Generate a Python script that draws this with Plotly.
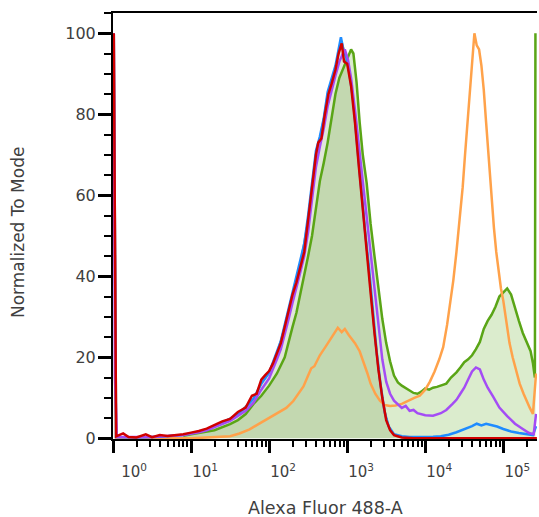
import plotly.graph_objects as go

# ---- data (x stored as log10 of Alexa Fluor 488-A intensity, y = % of mode) ----
red_logx = [0.01, 0.04, 0.13, 0.2, 0.3, 0.42, 0.5, 0.6, 0.7, 0.8, 0.9, 1.0, 1.1, 1.2, 1.3, 1.4, 1.5, 1.6, 1.7,
            1.78, 1.84, 1.9, 1.95, 2.0, 2.05, 2.1, 2.15, 2.2, 2.25, 2.3, 2.35, 2.4, 2.45, 2.5, 2.55, 2.6, 2.63,
            2.67, 2.71, 2.76, 2.8, 2.85, 2.89, 2.93, 2.96, 3.0, 3.05, 3.1, 3.15, 3.2, 3.25, 3.3, 3.35, 3.4, 3.45,
            3.5, 3.55, 3.6, 3.7, 3.85, 5.43]
red_vals = [100, 0.5, 1.2, 0.3, 0.2, 1.0, 0.3, 0.8, 0.6, 0.8, 1.0, 1.4, 1.8, 2.4, 3.3, 4.2, 4.8, 6.5, 7.6,
            10.5, 11.0, 14.5, 15.6, 16.6, 18.5, 21, 23.5, 27.5, 31.5, 35.5, 38.5, 42.5, 46, 54, 62, 70, 73,
            74, 79.5, 85, 87.5, 91, 95, 97.5, 93, 92.5, 87, 78, 67, 56, 47, 36, 26, 17, 10,
            4.5, 2, 0.8, 0.2, 0, 0]

blue_logx = [0.01, 0.04, 0.3, 0.6, 0.9, 1.0, 1.1, 1.2, 1.3, 1.4, 1.5, 1.6, 1.7, 1.8, 1.9, 2.0, 2.05, 2.1, 2.15,
             2.2, 2.25, 2.3, 2.35, 2.4, 2.45, 2.5, 2.55, 2.6, 2.65, 2.7, 2.75, 2.8, 2.85, 2.89, 2.92, 2.95, 2.99,
             3.03, 3.08, 3.13, 3.18, 3.23, 3.28, 3.33, 3.38, 3.43, 3.48, 3.53, 3.6, 3.7, 3.8, 3.9, 4.0, 4.1, 4.2,
             4.3, 4.4, 4.5, 4.6, 4.66, 4.72, 4.78, 4.85, 4.92, 5.0, 5.1, 5.2, 5.3, 5.38, 5.42]
blue_vals = [100, 0.3, 0.2, 0.4, 0.8, 1.2, 1.6, 2.2, 3.0, 3.9, 4.8, 6.0, 7.6, 9.8, 13.5, 16.2, 18.8, 21.5, 24,
             28, 32, 36, 39.5, 43.5, 48, 55, 63, 71, 74.5, 79, 85.5, 88.5, 92, 96, 99, 96, 94,
             90, 83, 72, 61, 51, 42, 31, 21, 13, 6.5, 3, 1, 0.5, 0.3, 0.3, 0.3, 0.4, 0.5,
             0.9, 1.5, 2.2, 3.0, 3.6, 3.2, 3.6, 3.3, 2.9, 2.3, 1.7, 1.3, 1.0, 0.8, 3]

purple_logx = [0.01, 0.025, 0.05, 0.5, 0.9, 1.0, 1.1, 1.2, 1.3, 1.4, 1.5, 1.6, 1.7, 1.8, 1.9, 2.0, 2.05, 2.1,
               2.15, 2.2, 2.25, 2.3, 2.35, 2.4, 2.45, 2.5, 2.55, 2.6, 2.65, 2.7, 2.75, 2.8, 2.85, 2.9, 2.94,
               2.97, 3.01, 3.05, 3.1, 3.15, 3.2, 3.25, 3.3, 3.35, 3.4, 3.45, 3.5, 3.55, 3.6, 3.65, 3.7, 3.75,
               3.8, 3.85, 3.9, 4.0, 4.1, 4.2, 4.27, 4.35, 4.4, 4.45, 4.5, 4.55, 4.6, 4.65, 4.7, 4.75, 4.8,
               4.87, 4.95, 5.05, 5.15, 5.25, 5.33, 5.39, 5.42]
purple_vals = [100, 15, 0.3, 0.3, 0.8, 1.1, 1.5, 2.0, 2.7, 3.5, 4.3, 5.5, 6.8, 8.8, 12, 14.8, 17, 19.5,
               22, 25.5, 29.5, 33.5, 37, 41, 45, 51, 59, 67, 72, 76.5, 82, 86, 89.5, 93, 95,
               96, 93.5, 89, 81, 72, 63, 54, 46, 36, 27, 19.5, 14, 11, 9.3, 8.5, 7.5, 8,
               6.8, 7, 6.2, 5.7, 5.6, 6.2, 7, 8.5, 9.5, 11, 12.5, 14.5, 16.5, 17.5, 17, 14.5, 12.5,
               10.3, 7.6, 5.5, 3.6, 2.3, 1.3, 1.0, 6]

green_logx = [0.9, 1.0, 1.3, 1.5, 1.6, 1.7, 1.8, 1.9, 2.0, 2.1, 2.2, 2.25, 2.3, 2.35, 2.4, 2.45, 2.5, 2.55,
              2.6, 2.65, 2.7, 2.75, 2.8, 2.85, 2.9, 2.95, 3.0, 3.05, 3.08, 3.12, 3.16, 3.2, 3.25, 3.3, 3.35,
              3.4, 3.45, 3.5, 3.55, 3.6, 3.65, 3.7, 3.75, 3.8, 3.85, 3.9, 3.95, 4.0, 4.05, 4.1, 4.15, 4.2,
              4.27, 4.33, 4.4, 4.45, 4.5, 4.55, 4.6, 4.65, 4.7, 4.75, 4.8, 4.85, 4.9, 4.95, 5.0, 5.05, 5.1,
              5.15, 5.2, 5.25, 5.3, 5.35, 5.38, 5.405, 5.412]
green_vals = [0.6, 1.0, 2.0, 3.5, 4.5, 6.0, 8.5, 10.5, 13, 16, 20, 24, 27.5, 31, 35.5, 40, 45, 50,
              57, 63.5, 68, 73, 79, 85, 89, 91.5, 93.5, 96, 95, 88, 78, 70, 63, 53, 45,
              37, 29.5, 23.5, 19, 15.5, 13.8, 13, 12.3, 11.8, 11.2, 11, 11.5, 12.3, 12, 12.5, 12.7, 13,
              13.5, 15, 16.3, 17.5, 18.8, 19.5, 20.5, 22, 23.8, 27, 29, 30.5, 32.5, 35, 36, 37, 35.5,
              32, 29, 26, 23.5, 21.5, 18.5, 15, 100]

orange_logx = [0.01, 0.04, 1.0, 1.3, 1.5, 1.62, 1.75, 1.88, 2.0, 2.14, 2.22, 2.31, 2.38, 2.44, 2.5, 2.54,
               2.58, 2.65, 2.72, 2.78, 2.84, 2.88, 2.93, 2.97, 3.02, 3.1, 3.16, 3.21, 3.26, 3.3, 3.36, 3.42,
               3.48, 3.55, 3.62, 3.7, 3.78, 3.86, 3.93, 4.0, 4.06, 4.12, 4.18, 4.23, 4.28, 4.32, 4.36, 4.4,
               4.44, 4.48, 4.51, 4.55, 4.58, 4.61, 4.63, 4.66, 4.69, 4.72, 4.75, 4.78, 4.81, 4.85, 4.88,
               4.91, 4.94, 4.97, 5.0, 5.04, 5.08, 5.12, 5.16, 5.21, 5.26, 5.3, 5.34, 5.38, 5.42]
orange_vals = [100, 0, 0, 0.3, 0.5, 1.2, 2.2, 3.7, 5, 6.5, 7.5, 9.2, 11, 12.8, 15.5, 17.3,
               17.8, 20.5, 22.5, 24.3, 26, 27.3, 26.2, 27, 25.5, 23.5, 21.5, 19, 16, 13.5, 11, 9.3,
               8.2, 8, 8.1, 8.5, 9.3, 10, 10.5, 12, 14, 16.5, 19.5, 22.5, 28, 33, 39, 46,
               54, 62, 70, 80, 88, 95, 100, 97, 96, 92, 86, 78, 70, 60, 52,
               46, 41, 37, 34, 28.5, 23.5, 20, 17, 13.5, 11, 9, 7.5, 6, 16]

grey_logx = [0.01, 0.04, 0.5, 0.9, 1.0, 1.2, 1.4, 1.6, 1.8, 1.9, 2.0, 2.1, 2.2, 2.3, 2.4, 2.5, 2.6, 2.65,
             2.7, 2.75, 2.8, 2.85, 2.9, 2.93, 2.97, 3.0, 3.05, 3.1, 3.15, 3.2, 3.25, 3.3, 3.35, 3.4, 3.45,
             3.5, 3.55, 3.62, 3.75, 5.43]
grey_vals = [100, 0.3, 0.3, 0.8, 1.2, 2.2, 3.9, 6.0, 9.8, 13.5, 16.2, 21, 27.5, 35.5, 43, 54, 70, 74,
             79, 85, 88, 91.5, 96, 98, 95, 93, 88, 79, 68, 57, 47, 36, 26, 17, 10,
             5, 2, 0.6, 0, 0]

x_tick_powers = [0, 1, 2, 3, 4, 5]
y_tick_vals = [0, 20, 40, 60, 80, 100]

x_title = "Alexa Fluor 488-A"
y_title = "Normalized To Mode"

# ---- figure ----
def lin(logs):
    return [10 ** v for v in logs]

fig = go.Figure()

fig.add_trace(go.Scatter(x=lin(grey_logx), y=grey_vals, mode="lines", fill="tozeroy",
                         fillcolor="rgba(140,158,112,0.26)", line=dict(color="#9a9a9a", width=2)))
fig.add_trace(go.Scatter(x=lin(green_logx), y=green_vals, mode="lines", fill="tozeroy",
                         fillcolor="rgba(85,165,20,0.21)", line=dict(color="#5aa516", width=2.5)))
fig.add_trace(go.Scatter(x=lin(orange_logx), y=orange_vals, mode="lines",
                         line=dict(color="#ffa24a", width=2.5)))
fig.add_trace(go.Scatter(x=lin(blue_logx), y=blue_vals, mode="lines",
                         line=dict(color="#1e8cff", width=2.5)))
fig.add_trace(go.Scatter(x=lin(purple_logx), y=purple_vals, mode="lines",
                         line=dict(color="#a44cf5", width=2.5)))
fig.add_trace(go.Scatter(x=lin(red_logx), y=red_vals, mode="lines",
                         line=dict(color="#d00000", width=2.5)))

minor_x = [k * 10 ** d for d in range(0, 6) for k in range(2, 10)]
x_ticktext = ["10<sup>%d</sup>" % p for p in x_tick_powers]
x_ticktext[0] = "\u00a0\u00a0\u00a0" + x_ticktext[0]

fig.update_layout(
    width=539, height=517,
    margin=dict(l=113, r=2, t=13, b=78),
    paper_bgcolor="white", plot_bgcolor="white",
    showlegend=False,
    hovermode=False,
    font=dict(family="DejaVu Sans", color="#404040"),
    xaxis=dict(
        type="log", range=[0, 5.432],
        showline=True, linecolor="black", linewidth=2, mirror=True,
        showgrid=False, zeroline=False,
        ticks="outside", ticklen=12, tickwidth=3, tickcolor="black",
        tickvals=[10 ** p for p in x_tick_powers],
        ticktext=x_ticktext,
        ticklabelshift=14,
        ticklabelstandoff=6,
        tickfont=dict(size=15, color="#404040"),
        minor=dict(tickvals=minor_x, ticks="outside", ticklen=6, tickwidth=1.5, tickcolor="black", showgrid=False),
    ),
    yaxis=dict(
        range=[-0.17, 105.0],
        showline=True, linecolor="black", linewidth=2, mirror=False,
        showgrid=False, zeroline=False,
        ticks="outside", ticklen=13, tickwidth=3, tickcolor="black",
        tickvals=y_tick_vals,
        ticklabelstandoff=-1,
        tickfont=dict(size=16, color="#404040"),
        minor=dict(dtick=5, ticks="outside", ticklen=7, tickwidth=1.5, tickcolor="black", showgrid=False),
    ),
    annotations=[
        dict(text=x_title, xref="paper", yref="paper", x=0.5, y=0, xanchor="center", yanchor="middle",
             yshift=-69, showarrow=False, font=dict(size=17.5, color="#404040")),
        dict(text=y_title, xref="paper", yref="paper", x=0, y=0.5, xanchor="center", yanchor="middle",
             xshift=-95, yshift=-7, textangle=-90, showarrow=False, font=dict(size=17, color="#404040")),
    ],
)

# remove the page's default body margin so the 539x517 figure fills the window exactly
fig.write_html("out.html",
               config={"displayModeBar": False},
               post_script="document.body.style.margin='0';document.body.style.overflow='hidden';")
